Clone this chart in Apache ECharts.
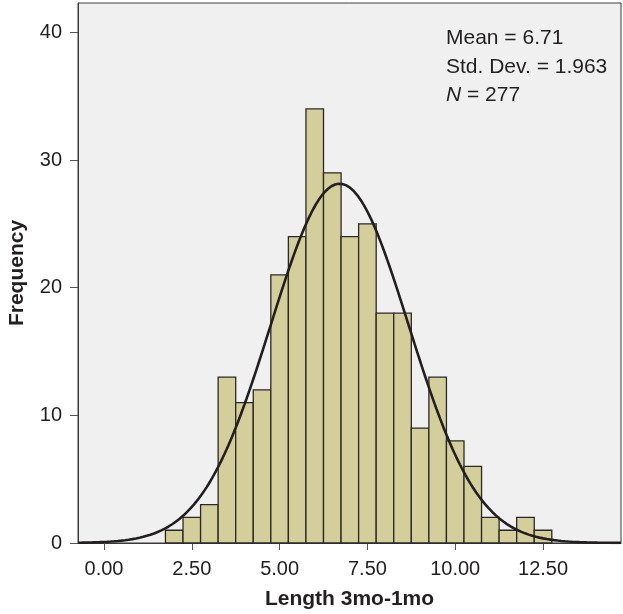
<!DOCTYPE html>
<html>
<head>
<meta charset="utf-8">
<script src="https://cdn.jsdelivr.net/npm/echarts@6/dist/echarts.min.js"></script>
<style>
html,body{margin:0;padding:0;background:#fff;}
#chart{width:623px;height:614px;}
</style>
</head>
<body>
<div id="chart"></div>
<script>
// ---- data ----
const binStarts = [1.75, 2.25, 2.75, 3.25, 3.75, 4.25, 4.75, 5.25, 5.75, 6.25, 6.75,
                   7.25, 7.75, 8.25, 8.75, 9.25, 9.75, 10.25, 10.75, 11.25, 11.75, 12.25];
const binWidth = 0.5;
const counts = [1, 2, 3, 13, 11, 12, 21, 24, 34, 29, 24, 25, 18, 18, 9, 13, 8, 6, 2, 1, 2, 1];
const xTickValues = [0, 2.5, 5, 7.5, 10, 12.5];
const yTickValues = [0, 10, 20, 30, 40];
const statMean = 6.71;
const statSD = 1.963;
const statN = 277;
const xMin = -0.74, xMax = 14.72, yMax = 42.3;

// fitted normal curve overlay (defined by the displayed Mean, Std. Dev. and N)
const curve = [];
for (let i = 0; i <= 300; i++) {
  const x = xMin + (xMax - xMin) * i / 300;
  const z = (x - statMean) / statSD;
  curve.push([x, statN * binWidth * Math.exp(-0.5 * z * z) / (statSD * Math.sqrt(2 * Math.PI))]);
}
const bars = binStarts.map((s, i) => [s, s + binWidth, counts[i]]);

const FONT = '"Liberation Sans", Arial, Helvetica, sans-serif';
const chart = echarts.init(document.getElementById('chart'));
chart.setOption({
  animation: false,
  grid: {left: 78, right: 2, top: 3, bottom: 71, show: true, containLabel: false, outerBoundsMode: 'none',
         backgroundColor: '#f0f0f0', borderColor: '#3a3a3a', borderWidth: 1},
  xAxis: {
    type: 'value', min: xMin, max: xMax,
    name: 'Length 3mo-1mo', nameLocation: 'middle', nameGap: 46,
    nameTextStyle: {fontFamily: FONT, fontSize: 21, fontWeight: 'bold', color: '#231f20'},
    axisLine: {show: true, onZero: false, lineStyle: {color: '#3a3a3a', width: 1}},
    axisTick: {show: true, length: 7, customValues: xTickValues, lineStyle: {color: '#555'}},
    axisLabel: {customValues: xTickValues, margin: 16, fontFamily: FONT, fontSize: 20, color: '#231f20',
                formatter: v => v.toFixed(2)},
    splitLine: {show: false}
  },
  yAxis: {
    type: 'value', min: 0, max: yMax,
    name: 'Frequency', nameLocation: 'middle', nameGap: 50, nameRotate: 90,
    nameTextStyle: {fontFamily: FONT, fontSize: 21, fontWeight: 'bold', color: '#231f20'},
    axisLine: {show: true, onZero: false, lineStyle: {color: '#3a3a3a', width: 1}},
    axisTick: {show: true, length: 8, customValues: yTickValues, lineStyle: {color: '#555'}},
    axisLabel: {customValues: yTickValues, margin: 16, fontFamily: FONT, fontSize: 20, color: '#231f20'},
    splitLine: {show: false}
  },
  series: [
    {
      type: 'custom',
      data: bars,
      encode: {x: [0, 1], y: 2},
      renderItem: function (params, api) {
        const p0 = api.coord([api.value(0), 0]);
        const p1 = api.coord([api.value(1), api.value(2)]);
        return {
          type: 'rect',
          shape: {x: p0[0], y: p1[1], width: p1[0] - p0[0], height: p0[1] - p1[1]},
          style: {fill: '#d3ce9a', stroke: '#2b2828', lineWidth: 1.3}
        };
      },
      z: 2
    },
    {
      type: 'line', data: curve, showSymbol: false, smooth: false,
      lineStyle: {color: '#231f20', width: 2.6}, z: 3
    }
  ],
  graphic: [
    {type: 'text', left: 446, top: 36.5 - 9, style: {text: 'Mean = ' + statMean.toFixed(2),
      font: '21px ' + FONT, fill: '#231f20'}},
    {type: 'text', left: 446, top: 65.5 - 9, style: {text: 'Std. Dev. = ' + statSD.toFixed(3),
      font: '21px ' + FONT, fill: '#231f20'}},
    {type: 'text', left: 446, top: 94 - 9, style: {text: '{i|N} = ' + statN,
      font: '21px ' + FONT, fill: '#231f20',
      rich: {i: {fontStyle: 'italic', fontFamily: FONT, fontSize: 21, fill: '#231f20'}}}}
  ]
});
</script>
</body>
</html>
